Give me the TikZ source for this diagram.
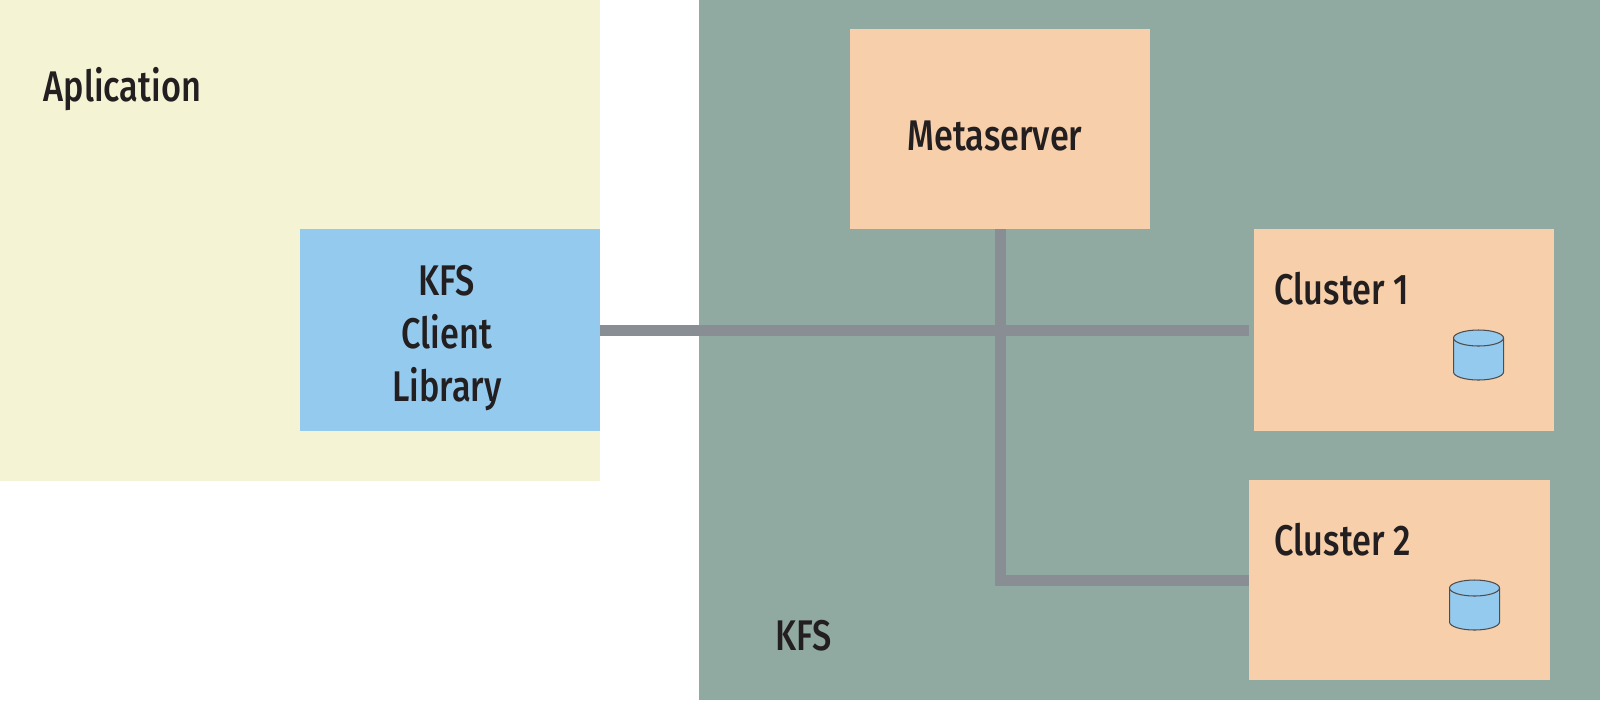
\documentclass[tikz,border=0pt]{standalone}
\usepackage{xcolor}
\usepackage{fontspec}
\setmainfont[FakeStretch=0.8]{Fira Sans Medium}
\usetikzlibrary{positioning, calc}

\definecolor{appyellow}{HTML}{F4F4D5}
\definecolor{kfsgreen}{HTML}{90AAA2}
\definecolor{boxorange}{HTML}{F7D0AB}
\definecolor{clientblue}{HTML}{94CAEE}
\definecolor{linkgray}{HTML}{898E94}
\definecolor{inkblack}{HTML}{231F20}

\tikzset{
    region/.style={anchor=south west, inner sep=0pt, outer sep=0pt},
    box/.style={region, fill=boxorange, minimum width=3cm, minimum height=2cm},
    tag/.style={anchor=base west, inner sep=0pt, text=inkblack, font=\fontsize{12.2}{15}\selectfont},
    link/.style={draw=linkgray, line width=0.11cm},
    disk/.pic={
        \draw[draw=inkblack!80, line width=0.3pt, fill=clientblue]
            (-0.25,0.17) -- (-0.25,-0.17) arc (180:360:0.25 and 0.08) -- (0.25,0.17);
        \draw[draw=inkblack!80, line width=0.3pt, fill=clientblue] (0,0.17) ellipse (0.25 and 0.08);
    },
}

\begin{document}
\begin{tikzpicture}
    \useasboundingbox (0,0) rectangle (16,7);
    % background areas
    \node[region, fill=appyellow, minimum width=6cm, minimum height=4.81cm] (application) at (0,2.19) {};
    \node[region, fill=kfsgreen, minimum width=9.01cm, minimum height=7cm] (kfs) at (6.99,0) {};
    % boxes
    \node[region, fill=clientblue, minimum width=3cm, minimum height=2.02cm] (client) at (3,2.69) {};
    \node[box] (metaserver) at (8.5,4.71) {};
    \node[box, minimum height=2.02cm] (cluster1) at (12.54,2.69) {};
    \node[box, minimum width=3.01cm] (cluster2) at (12.49,0.2) {};
    % labels
    \node[tag] (applabel) at (0.43,5.99) {Aplication};
    \node[tag] (kfslabel) at (7.75,0.5) {KFS};
    \node[tag] (metalabel) at (9.07,5.5) {Metaserver};
    \node[tag, anchor=center, align=center, yshift=-0.08cm, xshift=-0.03cm] (clientlabel) at (client) {KFS\\Client\\Library};
    \node[tag] (label1) at (12.74,3.96) {Cluster 1};
    \node[tag] (label2) at (12.74,1.45) {Cluster 2};
    % disks
    \pic at (14.785,3.45) {disk};
    \pic at (14.745,0.95) {disk};
    % links
    \draw[link] (client.east) -- (client.east -| cluster2.west);
    \draw[link] (metaserver.south) -- (metaserver.south |- cluster2.west) -- (cluster2.west);
\end{tikzpicture}
\end{document}
